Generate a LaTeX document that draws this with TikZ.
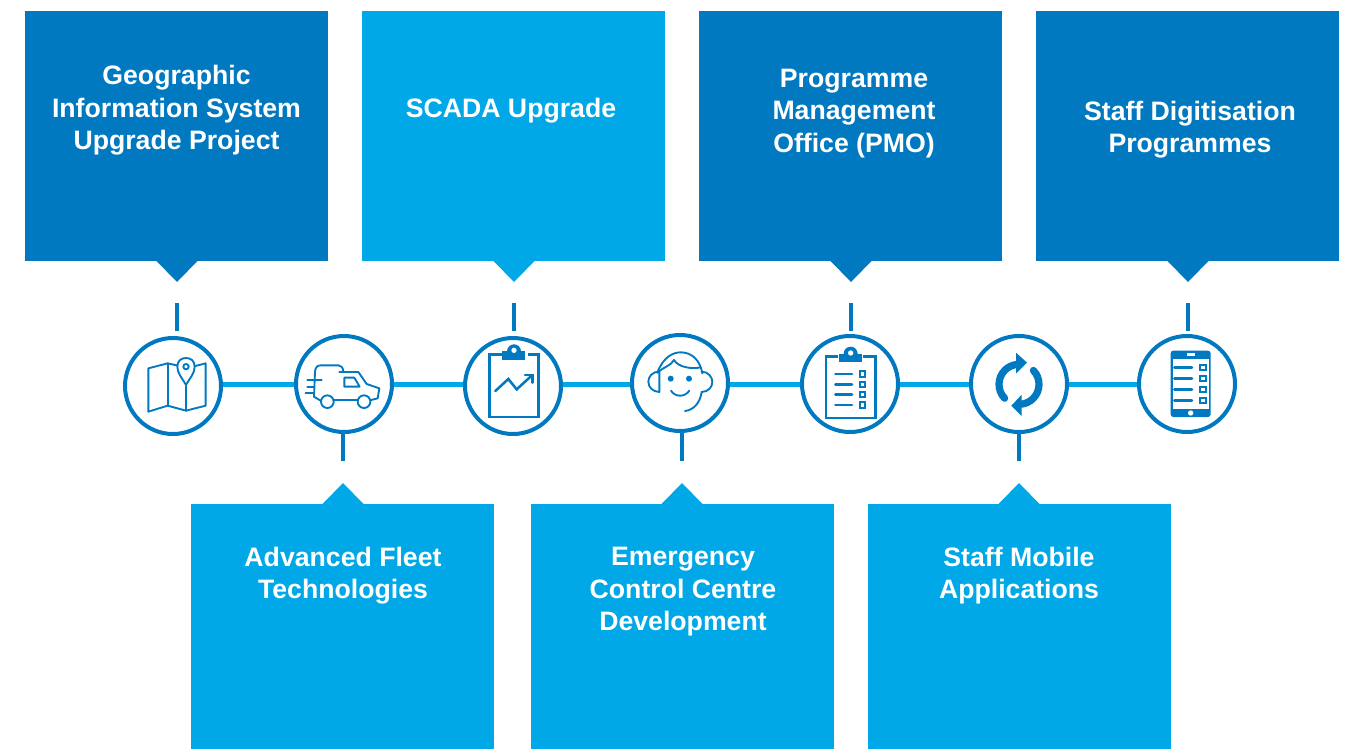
\documentclass[tikz,border=0pt]{standalone}
\usepackage{fontspec}
\usetikzlibrary{backgrounds}
\setmainfont{Liberation Sans}
\definecolor{dk}{HTML}{0079C1}
\definecolor{lt}{HTML}{00A8E8}
\tikzset{
 px/.style={x=0.75pt,y=-0.75pt},
 zoomed/.style={shift={(#1)},x=0.25pt,y=-0.25pt},
 boxdk/.style={fill=dk,draw=none,minimum width=227.25pt,minimum height=187.5pt,inner sep=0pt},
 boxlt/.style={fill=lt,draw=none,minimum width=227.25pt,minimum height=187.5pt,inner sep=0pt},
 boxlow/.style={fill=lt,draw=none,minimum width=227.25pt,minimum height=183.75pt,inner sep=0pt},
 caption/.style={text=white,font=\fontsize{20pt}{24.4pt}\selectfont\bfseries,align=center,inner sep=0pt},
 hub/.style={circle,draw=dk,line width=3pt,fill=white,minimum size=72pt,inner sep=0pt},
 link/.style={draw=lt,line width=3.2pt},
 stub/.style={draw=dk,line width=3.4pt},
 ic/.style={draw=dk,line width=1.4pt,line join=round,line cap=round,fill=none},
 icthick/.style={draw=dk,line width=1.9pt,line join=miter,line cap=round,fill=none},
 icb/.style={draw=dk,line width=2.2pt,line join=miter,fill=none},
 icbox/.style={draw=dk,line width=1.4pt,fill=white},
 iref/.style={draw=dk,line width=5.4pt,line cap=round,fill=none},
 icf/.style={fill=dk,draw=none},
 ich/.style={fill=white,draw=none},
}
\begin{document}
\begin{tikzpicture}[px]
\useasboundingbox (0,0) rectangle (1351,749);
% boxes (top)
\node[boxdk] (b1) at (176.5,136) {};
\node[boxlt] (b2) at (513.5,136) {};
\node[boxdk] (b3) at (850.5,136) {};
\node[boxdk] (b4) at (1187.5,136) {};
\fill[dk] (156,260.5) -- (198,260.5) -- (177,282) -- cycle;
\fill[lt] (493,260.5) -- (535,260.5) -- (514,282) -- cycle;
\fill[dk] (830,260.5) -- (872,260.5) -- (851,282) -- cycle;
\fill[dk] (1167,260.5) -- (1209,260.5) -- (1188,282) -- cycle;
% boxes (bottom)
\node[boxlow] (b5) at (342.5,626.5) {};
\node[boxlow] (b6) at (682,626.5) {};
\node[boxlow] (b7) at (1019,626.5) {};
\fill[lt] (322,504.5) -- (364,504.5) -- (343,483) -- cycle;
\fill[lt] (661,504.5) -- (703,504.5) -- (682,483) -- cycle;
\fill[lt] (998,504.5) -- (1040,504.5) -- (1019,483) -- cycle;
% captions
\node[caption] (t1) at (176.5,110.5) {Geographic\\Information System\\Upgrade Project};
\node[caption] (t2) at (511,110.5) {SCADA Upgrade};
\node[caption] (t3) at (854,113.5) {Programme\\Management\\Office (PMO)};
\node[caption] (t4) at (1190,129.5) {Staff Digitisation\\Programmes};
\node[caption] (t5) at (343,575.5) {Advanced Fleet\\Technologies};
\node[caption] (t6) at (683,592) {Emergency\\Control Centre\\Development};
\node[caption] (t7) at (1019,575.5) {Staff Mobile\\Applications};
% hubs
\node[hub] (c1) at (173,386) {};
\node[hub] (c2) at (344,384) {};
\node[hub] (c3) at (513,386) {};
\node[hub] (c4) at (680,383) {};
\node[hub] (c5) at (850,384) {};
\node[hub] (c6) at (1019,384) {};
\node[hub] (c7) at (1187,384) {};
% free ends
\coordinate (rail) at (0,384.5);
\coordinate (s1) at (177,303); \coordinate (e1) at (177,331);
\coordinate (s2) at (514,303); \coordinate (e2) at (514,331);
\coordinate (s3) at (851,303); \coordinate (e3) at (851,331);
\coordinate (s4) at (1188,303); \coordinate (e4) at (1188,331);
\coordinate (s5) at (343,461); \coordinate (s6) at (682,461); \coordinate (s7) at (1019,461);
\begin{scope}[on background layer]
\path[link] (c1 |- rail) -- (c2 |- rail);
\path[link] (c2 |- rail) -- (c3 |- rail);
\path[link] (c3 |- rail) -- (c4 |- rail);
\path[link] (c4 |- rail) -- (c5 |- rail);
\path[link] (c5 |- rail) -- (c6 |- rail);
\path[link] (c6 |- rail) -- (c7 |- rail);
\path[stub] (s5) -- (s5 |- c2);
\path[stub] (s6) -- (s6 |- c4);
\path[stub] (s7) -- (s7 |- c6);
\end{scope}
\path[stub] (s1) -- (e1);
\path[stub] (s2) -- (e2);
\path[stub] (s3) -- (e3);
\path[stub] (s4) -- (e4);
% map and van icons
\begin{scope}[zoomed={110,290}]
\draw[ic] (200,226) -- (173,220) -- (115,235) -- (115,365) -- (173,347) -- (228,362) -- (287,347) -- (287,220) -- (256,228);
\draw[ic] (173,220) -- (173,347);
\draw[ic] (228,288) -- (228,362);
\draw[ic] (228,285) .. controls (215,262) and (202,250) .. (202,230) .. controls (202,212) and (214,204) .. (228,204) .. controls (242,204) and (254,212) .. (254,230) .. controls (254,250) and (241,262) .. (228,285) -- cycle;
\draw[ic] (228,230) circle[radius=8];
\draw[ic] (612,320) -- (615,245) .. controls (616,232) and (622,226) .. (632,226) -- (685,226) .. controls (693,226) and (699,232) .. (700,245);
\draw[ic] (688,246) -- (745,246) -- (770,282) -- (808,295) -- (803,325) -- (783,330);
\draw[ic] (612,320) -- (632,332);
\draw[ic] (672,331) -- (742,331);
\draw[ic] (703,263) -- (733,263) -- (749,290) -- (703,290) -- cycle;
\draw[ic] (592,270) -- (635,270);
\draw[ic] (592,290) -- (612,290);
\draw[ic] (587,310) -- (610,310);
\draw[ic] (652,335) circle[radius=19];
\draw[ic] (762,335) circle[radius=19];
\end{scope}
% chart clipboard and headset
\begin{scope}[zoomed={450,290}]
\draw[icb] (155,193) -- (118,193) -- (118,381) -- (266,381) -- (266,193) -- (235,193);
\fill[icf] (157,184) rectangle (226,209);
\fill[icf] (192,184) circle[radius=21];
\fill[ich] (192,181) circle[radius=8];
\draw[icthick] (136,303) -- (175,267) -- (200,298) -- (246,256);
\draw[icthick] (225,255) -- (247,255) -- (247,278);
\draw[ic] (622,248) .. controls (640,200) and (670,187) .. (692,187) .. controls (725,187) and (750,210) .. (757,250);
\draw[ic] (622,248) .. controls (640,232) and (665,225) .. (672,210) .. controls (685,232) and (725,238) .. (752,232);
\draw[ic] (628,245) .. controls (605,245) and (595,262) .. (595,275) .. controls (595,292) and (608,305) .. (628,306) -- cycle;
\draw[ic] (755,245) .. controls (775,245) and (787,262) .. (787,275) .. controls (787,292) and (775,305) .. (755,306);
\draw[ic] (755,306) .. controls (750,340) and (730,360) .. (705,363);
\fill[icf] (662,266) circle[radius=9];
\fill[icf] (717,266) circle[radius=9];
\draw[ic] (663,302) .. controls (675,322) and (705,322) .. (718,302);
\end{scope}
% checklist clipboard and refresh arrows
\begin{scope}[zoomed={790,290}]
\draw[icb] (145,200) -- (108,200) -- (108,384) -- (257,384) -- (257,200) -- (220,200);
\fill[icf] (147,191) rectangle (217,217);
\fill[icf] (182,191) circle[radius=21];
\fill[ich] (182,189) circle[radius=8];
\foreach \yy in {252,283,314,345} {
 \draw[icthick] (136,\yy) -- (186,\yy);
 \draw[icbox] (209,\yy-8) rectangle (225,\yy+8);
}
\draw[iref] (687,283) ++(136:60) arc[start angle=136,end angle=263,radius=60];
\fill[icf] (678,188) -- (711,218) -- (678,251) -- cycle;
\draw[iref] (687,283) ++(-44:60) arc[start angle=-44,end angle=82,radius=60];
\fill[icf] (695,314) -- (664,347) -- (695,378) -- cycle;
\end{scope}
% phone
\begin{scope}[zoomed={1100,290}]
\fill[icf,rounded corners=2pt] (212,182) rectangle (332,381);
\fill[ich] (219,206) rectangle (326,358);
\fill[ich] (260,190) rectangle (285,198);
\fill[ich] (272,369) circle[radius=8];
\foreach \yy in {232,265,298,331} {
 \draw[icthick] (223,\yy) -- (276,\yy);
 \draw[icbox] (301,\yy-8) rectangle (317,\yy+8);
}
\end{scope}
\end{tikzpicture}
\end{document}
